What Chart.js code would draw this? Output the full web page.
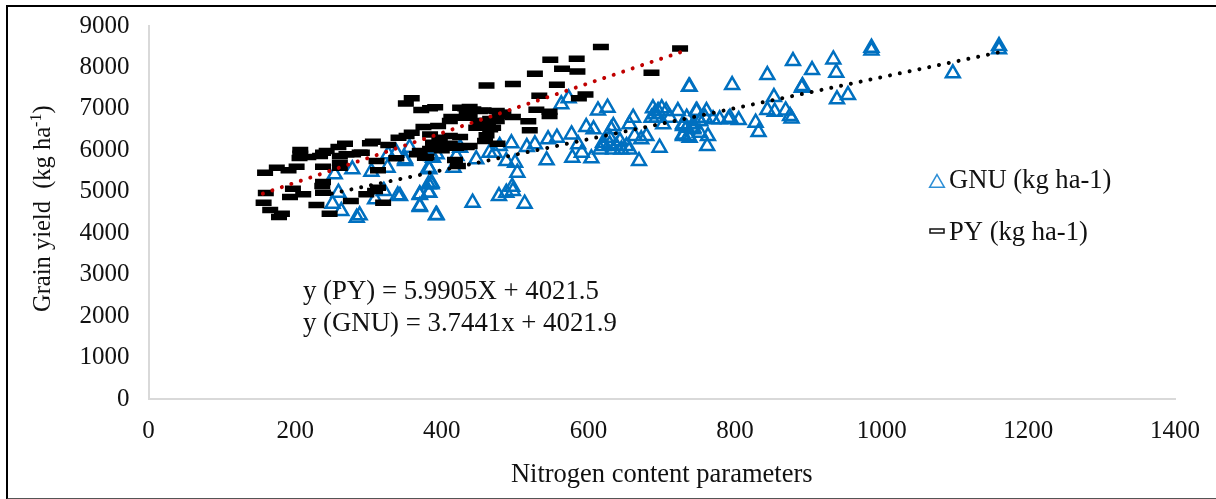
<!DOCTYPE html>
<html>
<head>
<meta charset="utf-8">
<script src="https://cdn.jsdelivr.net/npm/chart.js@4"></script>
<style>
  html, body { margin: 0; padding: 0; background: #fff; }
  #wrap { position: relative; width: 1216px; height: 499px; overflow: hidden; }
  #frame { position: absolute; left: 6px; top: 5px; width: 1230px; height: 491px; border: 2px solid #000; border-bottom-color: #555; pointer-events: none; }
</style>
</head>
<body>
<div id="wrap">
  <canvas id="scatterChart" width="1216" height="499"></canvas>
  <div id="frame"></div>
</div>
<script>
const xTicks = [0, 200, 400, 600, 800, 1000, 1200, 1400];
const yTicks = [0, 1000, 2000, 3000, 4000, 5000, 6000, 7000, 8000, 9000];

const gnuX = [254,278,304,326,259,251,263,284,288,321,309,340,370,370,383,386,382,392,327,338,350,382,386,356,
  738,573,563,613,626,661,597,607,634,631,656,688,700,706,722,747,686,702,734,743,729,663,679,672,697,577,620,638,656,629,643,586,591,578,604,669,557,545,527,516,543,495,479,465,472,447,488,500,503,425,416,383,386,382,370,370,393,442,478,488,497,496,513,343,350,393,388,420,
  737,796,844,879,905,934,938,986,986,1097,892,891,853,939,954,844,854,869,875,877,828,832,762,763,793,805,779,791,761,748,770,736,752,743,729,1160,1160,
  620,629,645,652,634,616,693,711,695,690,734,743,729,752,729,738,752,759];
const gnuY = [5421,5541,5485,5581,4978,4713,4536,4375,4432,5019,4817,4914,4922,4657,4978,5220,5180,4432,5903,5943,5783,5581,5863,6064,
  7535,7254,7109,6964,7029,6787,6562,6506,6586,6506,6627,7013,7013,6948,6948,6948,6787,6627,6546,6506,6345,6345,6345,6265,6064,6385,6104,6104,6023,6305,6225,6144,5943,5823,5807,5742,6305,6265,6144,6080,5758,6168,6104,5943,5943,5782,5742,5702,5461,6064,5581,5541,5180,4978,4938,4633,4440,4737,4898,4978,5019,5123,4713,4898,5742,5903,5823,5863,
  7535,7575,7817,8154,7937,8194,7873,8476,8411,7857,7551,7511,7286,7230,7334,6972,6932,6964,6828,6771,6667,6442,6104,6345,6787,6731,6747,6747,6948,6948,6747,6345,6425,6546,6627,8436,8516,
  6184,6144,6023,6104,6023,6023,6787,6787,6948,6868,6787,6627,6586,6707,6385,6305,6707,6787];

const pyX = [359,351,384,372,375,395,359,384,341,352,306,268,259,207,207,218,238,243,261,291,270,327,302,338,366,377,388,388,202,175,159,191,238,261,311,313,238,237,197,160,193,211,238,157,166,182,178,229,247,276,320,297,309,313,279,288,261,
  617,725,548,584,564,585,527,686,461,497,557,533,596,587,391,432,434,452,475,529,547,547,497,518,479,413,411,432,463,466,461,520,411,425,411,404,434,370,379,418,422,476,397,452,443,461,470,
  393,407,420,400,447,461,475,425,438,457,484,
  438,466,479,452,397,418,438,459,384,206,234];
const pyY = [7254,7133,7013,6972,6562,6586,6426,6385,6305,6345,6208,6160,6080,6008,5919,5839,5943,5983,5863,5943,5903,6128,6168,5807,5903,5823,6184,6064,5606,5581,5461,5517,5606,5702,5742,5517,5236,5139,5075,4970,4874,4938,4978,4737,4560,4472,4392,4681,4472,4777,4737,4938,5019,5099,5903,5943,5581,
  8492,8460,8186,8210,7969,7905,7849,7873,7567,7599,7583,7318,7350,7254,7037,7013,6908,6948,6948,6980,6932,6828,6804,6699,6828,6804,6707,6787,6627,6506,6361,6482,6345,6321,6160,6080,6080,5983,5839,5766,5622,6160,6305,6707,6988,6707,6546,
  6128,6128,6064,6000,6546,6546,6707,7029,7045,6964,6908,
  6827,6755,6900,6586,6224,6104,6104,6224,6031,5814,5862];

const pyTrendX = [156, 725];
const pyTrendY = [4956, 8365];
const gnuTrendX = [250, 1160];
const gnuTrendY = [4958, 8365];

const xTitle = "Nitrogen content parameters";
const yTitleParts = ["Grain yield  (kg ha", "-1", ")"];
const legendLabels = ["GNU (kg ha-1)", "PY (kg ha-1)"];
const equations = ["y (PY) = 5.9905X + 4021.5", "y (GNU) = 3.7441x + 4021.9"];

const serif = "'Liberation Serif', 'Times New Roman', serif";
const toPoints = (xs, ys) => xs.map((x, i) => ({ x: x, y: ys[i] }));

// legend, y title and regression notes are placed by hand
const notesPlugin = {
  id: "notes",
  afterDraw(chart) {
    const ctx = chart.ctx;
    ctx.save();
    ctx.fillStyle = "#111";
    ctx.textBaseline = "alphabetic";
    ctx.textAlign = "left";
    ctx.font = "26.8px " + serif;
    ctx.fillText(equations[0], 303, 299);
    ctx.fillText(equations[1], 303, 331);
    ctx.font = "26.6px " + serif;
    ctx.fillText(legendLabels[0], 949, 188);
    ctx.fillText(legendLabels[1], 949, 240);

    // rotated y title with the small -1
    ctx.translate(50, 312);
    ctx.rotate(-Math.PI / 2);
    ctx.font = "24.5px " + serif;
    let w = 0;
    ctx.fillText(yTitleParts[0], 0, 0);
    w += ctx.measureText(yTitleParts[0]).width;
    ctx.font = "16px " + serif;
    ctx.fillText(yTitleParts[1], w, -9);
    w += ctx.measureText(yTitleParts[1]).width;
    ctx.font = "24.5px " + serif;
    ctx.fillText(yTitleParts[2], w, 0);
    ctx.restore();

    ctx.save();
    ctx.strokeStyle = "#2e8fd6";
    ctx.fillStyle = "#fff";
    ctx.lineWidth = 1.5;
    Chart.helpers.drawPoint(ctx, { pointStyle: "triangle", radius: 8.5, rotation: 0, borderWidth: 1.5 }, 937, 183);
    ctx.strokeStyle = "#111";
    ctx.fillRect(930, 229, 14, 4);
    ctx.strokeRect(930, 229, 14, 4);
    ctx.restore();
  },
};

var ctx = document.getElementById("scatterChart").getContext("2d");
var scatterChart = new Chart(ctx, {
  type: "scatter",
  plugins: [notesPlugin],
  data: {
    datasets: [
      {
        label: legendLabels[0],
        data: toPoints(gnuX, gnuY),
        pointStyle: "triangle",
        pointRadius: 8,
        pointBorderWidth: 2.5,
        pointBorderColor: "#0070c0",
        pointBackgroundColor: "rgba(255,255,255,0)",
        order: 4,
      },
      {
        label: legendLabels[1],
        data: toPoints(pyX, pyY),
        pointStyle: "line",
        pointRadius: 8,
        pointBorderWidth: 6.5,
        pointBorderColor: "#000",
        order: 3,
      },
      {
        label: "GNU trend",
        data: toPoints(gnuTrendX, gnuTrendY),
        showLine: true,
        borderColor: "#000",
        borderWidth: 4,
        borderDash: [0.01, 10],
        borderCapStyle: "round",
        pointRadius: 0,
        order: 2,
      },
      {
        label: "PY trend",
        data: toPoints(pyTrendX, pyTrendY),
        showLine: true,
        borderColor: "#c00000",
        borderWidth: 4,
        borderDash: [0.01, 10],
        borderCapStyle: "round",
        pointRadius: 0,
        order: 1,
      },
    ],
  },
  options: {
    responsive: false,
    animation: false,
    layout: { padding: { top: 25, right: 41, left: 0, bottom: 0 } },
    plugins: { legend: { display: false }, tooltip: { enabled: false } },
    scales: {
      x: {
        type: "linear",
        min: xTicks[0],
        max: xTicks[xTicks.length - 1],
        grid: { display: false },
        border: { color: "#d9d9d9", width: 2 },
        afterFit: (scale) => { scale.height = 100; },
        afterBuildTicks: (scale) => { scale.ticks = xTicks.map((v) => ({ value: v })); },
        ticks: { color: "#111", font: { family: serif, size: 25 }, padding: 9, maxRotation: 0, callback: (v) => String(v) },
        title: { display: true, text: xTitle, color: "#111", font: { family: serif, size: 26.5 }, padding: { bottom: 8 } },
      },
      y: {
        type: "linear",
        min: yTicks[0],
        max: yTicks[yTicks.length - 1],
        grid: { display: false },
        border: { color: "#d9d9d9", width: 2 },
        afterFit: (scale) => { scale.width = 148.5; },
        afterBuildTicks: (scale) => { scale.ticks = yTicks.map((v) => ({ value: v })); },
        ticks: { color: "#111", font: { family: serif, size: 25 }, padding: 11, callback: (v) => String(v) },
      },
    },
  },
});
</script>
</body>
</html>
